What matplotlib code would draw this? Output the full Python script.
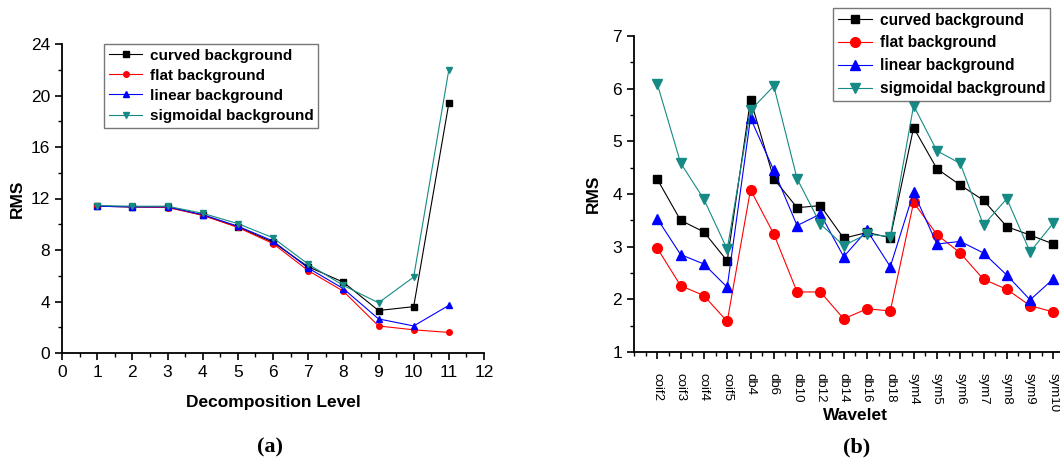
import numpy as np
import matplotlib
matplotlib.use("Agg")
import matplotlib.pyplot as plt
from matplotlib.ticker import MultipleLocator

plt.rcParams['font.family'] = ['Liberation Sans', 'DejaVu Sans']

# panel (a): RMS vs decomposition level
levels = [1, 2, 3, 4, 5, 6, 7, 8, 9, 10, 11]
curved_a = [11.4, 11.35, 11.35, 10.7, 9.8, 8.6, 6.7, 5.5, 3.3, 3.6, 19.4]
flat_a = [11.4, 11.35, 11.3, 10.7, 9.75, 8.5, 6.4, 4.8, 2.1, 1.8, 1.6]
linear_a = [11.4, 11.35, 11.35, 10.75, 9.85, 8.7, 6.6, 5.0, 2.65, 2.1, 3.7]
sigmoidal_a = [11.45, 11.4, 11.4, 10.85, 10.05, 8.95, 6.9, 5.25, 3.9, 5.9, 22.0]

# panel (b): RMS vs wavelet
wavelets = ['coif2', 'coif3', 'coif4', 'coif5', 'db4', 'db6', 'db10', 'db12', 'db14',
            'db16', 'db18', 'sym4', 'sym5', 'sym6', 'sym7', 'sym8', 'sym9', 'sym10']
curved_b = [4.28, 3.50, 3.28, 2.73, 5.79, 4.29, 3.74, 3.78, 3.16, 3.27, 3.17,
            5.26, 4.48, 4.17, 3.88, 3.38, 3.22, 3.05]
flat_b = [2.97, 2.26, 2.07, 1.58, 4.08, 3.24, 2.14, 2.14, 1.63, 1.82, 1.78,
          3.84, 3.23, 2.88, 2.38, 2.19, 1.88, 1.76]
linear_b = [3.53, 2.85, 2.67, 2.23, 5.44, 4.45, 3.40, 3.62, 2.81, 3.31, 2.62,
            4.03, 3.05, 3.10, 2.88, 2.46, 1.99, 2.39]
sigmoidal_b = [6.09, 4.59, 3.90, 2.95, 5.59, 6.05, 4.29, 3.43, 3.02, 3.24, 3.19,
               5.68, 4.82, 4.58, 3.41, 3.91, 2.90, 3.45]

labels = ['curved background', 'flat background', 'linear background', 'sigmoidal background']
colors = ['black', '#ff0000', '#0000ff', '#168a84']
markers = ['s', 'o', '^', 'v']

W, H = 1060, 470
fig = plt.figure(figsize=(W / 100, H / 100), dpi=100)


def px_axes(left, top, right, bottom):
    return fig.add_axes([left / W, 1 - bottom / H, (right - left) / W, (bottom - top) / H])


def style(ax):
    ax.spines['top'].set_visible(False)
    ax.spines['right'].set_visible(False)
    ax.spines['left'].set_linewidth(1.3)
    ax.spines['bottom'].set_linewidth(1.3)
    ax.tick_params(which='major', direction='out', length=5, width=1.2, labelsize=12.5)
    ax.tick_params(which='minor', direction='out', length=3, width=1.0)


# (a)
ax1 = px_axes(62, 44, 484, 353)
series_a = [curved_a, flat_a, linear_a, sigmoidal_a]
for vals, lab, c, m in zip(series_a, labels, colors, markers):
    ms = 5 if m in ('^', 'v') else 4
    ax1.plot(levels, vals, color=c, marker=m, markersize=ms, linewidth=0.8, label=lab)
ax1.set_xlim(0, 12)
ax1.set_ylim(0, 24)
ax1.xaxis.set_major_locator(MultipleLocator(1))
ax1.xaxis.set_minor_locator(MultipleLocator(0.5))
ax1.yaxis.set_major_locator(MultipleLocator(4))
ax1.yaxis.set_minor_locator(MultipleLocator(2))
style(ax1)
ax1.set_xlabel('Decomposition Level', fontsize=12.5, fontweight='bold', labelpad=11)
ax1.set_ylabel('RMS', fontsize=12.5, fontweight='bold', labelpad=4)
leg1 = ax1.legend(loc='upper left', bbox_to_anchor=(0.1, 1.0),
                  prop={'weight': 'bold', 'size': 11}, fancybox=False, edgecolor='#555555',
                  handlelength=2.2, handletextpad=0.5, borderpad=0.3, labelspacing=0.4,
                  borderaxespad=0)
leg1.get_frame().set_linewidth(1.0)

# (b)
ax2 = px_axes(634, 36, 634 + 19 * 23.3, 352)
xs = np.arange(1, len(wavelets) + 1)
series_b = [curved_b, flat_b, linear_b, sigmoidal_b]
for vals, lab, c, m in zip(series_b, labels, colors, markers):
    ms = 6 if m == 's' else 7
    ax2.plot(xs, vals, color=c, marker=m, markersize=ms, linewidth=0.8, label=lab)
ax2.set_xlim(0, 19)
ax2.set_ylim(1, 7)
ax2.set_xticks(xs)
ax2.set_xticklabels(wavelets, rotation=-90)
ax2.xaxis.set_minor_locator(MultipleLocator(0.5))
ax2.yaxis.set_major_locator(MultipleLocator(1))
ax2.yaxis.set_minor_locator(MultipleLocator(0.5))
style(ax2)
ax2.tick_params(axis='x', which='major', labelsize=9.5, pad=10)
ax2.set_xlabel('Wavelet', fontsize=12.5, fontweight='bold', labelpad=-3)
ax2.set_ylabel('RMS', fontsize=12.5, fontweight='bold', labelpad=8)
leg2 = fig.legend(*ax2.get_legend_handles_labels(), loc='upper left',
                  bbox_to_anchor=(833 / W, 1 - 8 / H),
                  prop={'weight': 'bold', 'size': 11.2}, fancybox=False, edgecolor='#555555',
                  handlelength=2.2, handletextpad=0.5, borderpad=0.3, labelspacing=0.5,
                  borderaxespad=0)
leg2.get_frame().set_linewidth(1.0)

fig.text(270 / W, 1 - 447 / H, '(a)', family=['Liberation Serif', 'DejaVu Serif'],
         fontsize=16, fontweight='bold', ha='center', va='center')
fig.text(857 / W, 1 - 447 / H, '(b)', family=['Liberation Serif', 'DejaVu Serif'],
         fontsize=16, fontweight='bold', ha='center', va='center')

fig.savefig('out.png', dpi=100)
